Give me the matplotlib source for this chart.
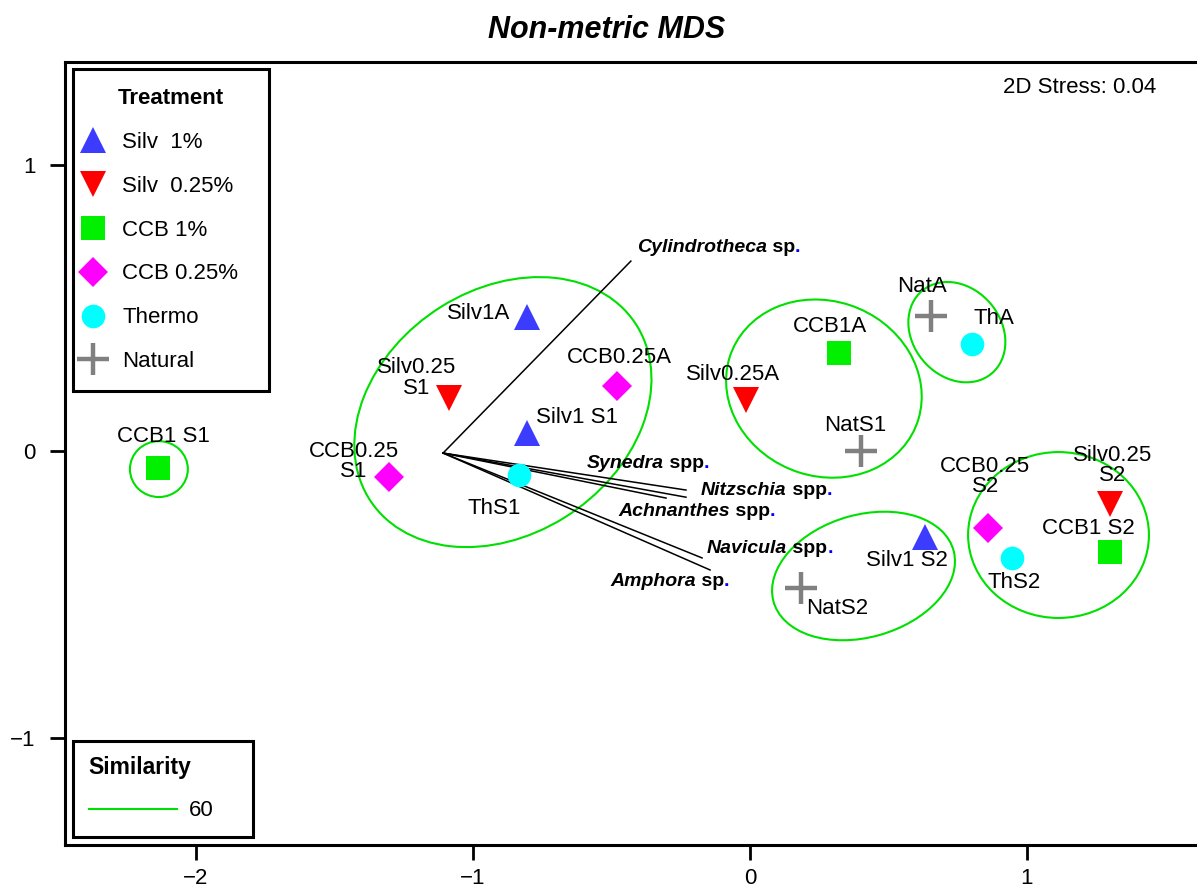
import matplotlib
matplotlib.use('Agg')
import matplotlib.pyplot as plt
from matplotlib.lines import Line2D
from matplotlib.patches import Ellipse

plt.rcParams['font.family'] = ['Liberation Sans', 'DejaVu Sans']

# --- sample ordination scores (nMDS axis 1 / axis 2) ---
sample_names = ['CCB1 S1', 'Silv1A', 'Silv0.25\nS1', 'CCB0.25\nS1', 'Silv1 S1', 'ThS1',
                'CCB0.25A', 'Silv0.25A', 'CCB1A', 'NatS1', 'NatA', 'ThA',
                'Silv1 S2', 'NatS2', 'CCB0.25\nS2', 'ThS2', 'Silv0.25\nS2', 'CCB1 S2']
sample_groups = ['CCB 1%', 'Silv  1%', 'Silv  0.25%', 'CCB 0.25%', 'Silv  1%', 'Thermo',
                 'CCB 0.25%', 'Silv  0.25%', 'CCB 1%', 'Natural', 'Natural', 'Thermo',
                 'Silv  1%', 'Natural', 'CCB 0.25%', 'Thermo', 'Silv  0.25%', 'CCB 1%']
mds_x = [-2.137, -0.805, -1.087, -1.303, -0.805, -0.834,
         -0.480, -0.014, 0.321, 0.401, 0.653, 0.801,
         0.632, 0.184, 0.859, 0.946, 1.300, 1.300]
mds_y = [-0.059, 0.468, 0.185, -0.091, 0.063, -0.084,
         0.227, 0.178, 0.342, 0.000, 0.471, 0.373,
         -0.300, -0.478, -0.269, -0.373, -0.185, -0.353]

# --- species correlation vectors ---
vector_origin = (-1.108, -0.007)
species = ['Cylindrotheca', 'Synedra', 'Nitzschia', 'Achnanthes', 'Navicula', 'Amphora']
species_suffix = ['sp', 'spp', 'spp', 'spp', 'spp', 'sp']
vector_x = [-0.430, -0.231, -0.231, -0.303, -0.173, -0.144]
vector_y = [0.663, -0.136, -0.161, -0.164, -0.373, -0.415]

# --- 60% similarity contours (centre x, centre y, width, height, angle) ---
cluster_x = [-2.134, -0.892, 0.267, 0.747, 0.410, 1.114]
cluster_y = [-0.063, 0.136, 0.218, 0.415, -0.436, -0.293]
cluster_w = [0.209, 1.14, 0.715, 0.383, 0.674, 0.653]
cluster_h = [0.195, 0.86, 0.612, 0.314, 0.428, 0.579]
cluster_angle = [0, 31, -17.5, -45, 15, 0]

stress = 0.04
similarity_level = 60

# marker style per treatment
treatments = ['Silv  1%', 'Silv  0.25%', 'CCB 1%', 'CCB 0.25%', 'Thermo', 'Natural']
styles = {
    'Silv  1%':    dict(marker='^', color='#3c3cff', markersize=19),
    'Silv  0.25%': dict(marker='v', color='#ff0000', markersize=19),
    'CCB 1%':      dict(marker='s', color='#00f000', markersize=17),
    'CCB 0.25%':   dict(marker='D', color='#ff00ff', markersize=15),
    'Thermo':      dict(marker='o', color='#00ffff', markersize=17),
    'Natural':     dict(marker='+', color='#808080', markersize=23, markeredgewidth=3.2),
}

# sample label placement: (dx, dy in points, horizontal alignment)
label_pos = {
    'CCB1 S1': (3.6, 22.3, 'center'), 'Silv1A': (-12.2, 2.2, 'right'),
    'Silv0.25\nS1': (-23, 14.4, 'center'), 'CCB0.25\nS1': (-25.2, 11.5, 'center'),
    'Silv1 S1': (6.5, 11.5, 'left'), 'ThS1': (-17.6, -23.8, 'center'),
    'CCB0.25A': (1.4, 20.2, 'center'), 'Silv0.25A': (-9.4, 18.7, 'center'),
    'CCB1A': (-6.5, 19.4, 'center'), 'NatS1': (-4, 18.7, 'center'),
    'NatA': (-6.5, 21.6, 'center'), 'ThA': (16.2, 18.7, 'center'),
    'Silv1 S2': (-13.3, -16.6, 'center'), 'NatS2': (26.3, -14.4, 'center'),
    'CCB0.25\nS2': (-1.8, 37.1, 'center'), 'ThS2': (1.4, -18, 'center'),
    'Silv0.25\nS2': (2.2, 27.7, 'center'), 'CCB1 S2': (-15.5, 17.3, 'center'),
}
species_pos = [(4.3, 10.1), (-71.3, 19.4), (10.8, 5.0), (-34.6, -9.4), (3.6, 6.5), (-72, -8.6)]

fig = plt.figure(figsize=(11.97, 8.88), dpi=100)
ax = fig.add_axes([0.0543, 0.0484, 0.9457, 0.8818])
ax.set_xlim(-2.473, 1.614)
ax.set_ylim(-1.375, 1.358)

# similarity contours
for cx, cy, w, h, a in zip(cluster_x, cluster_y, cluster_w, cluster_h, cluster_angle):
    ax.add_patch(Ellipse((cx, cy), w, h, angle=a, fill=False, edgecolor='#00e000', lw=1.5, zorder=1))

# species vectors
for i, sp in enumerate(species):
    ax.plot([vector_origin[0], vector_x[i]], [vector_origin[1], vector_y[i]],
            color='black', lw=1.1, zorder=2)
    dx, dy = species_pos[i]
    t = ax.annotate(sp, xy=(vector_x[i], vector_y[i]), xytext=(dx, dy), textcoords='offset points',
                    ha='left', va='center', fontsize=14, fontstyle='italic', fontweight='bold', zorder=5)
    s = ax.annotate(' ' + species_suffix[i], xy=(1, 0), xycoords=t, ha='left', va='bottom',
                    fontsize=14, fontweight='bold', zorder=5)
    ax.annotate('.', xy=(1, 0), xycoords=s, ha='left', va='bottom', color='blue',
                fontsize=14, fontweight='bold', zorder=5)

# samples
for name, grp, x, y in zip(sample_names, sample_groups, mds_x, mds_y):
    st = styles[grp]
    ax.plot(x, y, linestyle='none', marker=st['marker'], color=st['color'],
            markersize=st['markersize'], markeredgewidth=st.get('markeredgewidth', 0), zorder=4)
    dx, dy, ha = label_pos[name]
    ax.annotate(name, xy=(x, y), xytext=(dx, dy), textcoords='offset points',
                ha=ha, va='center', multialignment='center', linespacing=0.95,
                fontsize=16, zorder=5)

ax.text(0.9638, 0.968, '2D Stress: %.2f' % stress, transform=ax.transAxes,
        ha='right', va='center', fontsize=16)

# axes styling
for side in ['left', 'bottom', 'top']:
    ax.spines[side].set_linewidth(2.2)
ax.spines['right'].set_visible(False)
ax.set_xticks([-2, -1, 0, 1])
ax.set_yticks([-1, 0, 1])
ax.set_xticklabels(['\u22122', '\u22121', '0', '1'])
ax.set_yticklabels(['\u22121', '0', '1'])
ax.tick_params(axis='both', direction='out', length=11, width=2, labelsize=16)
ax.tick_params(axis='x', pad=5.5)
ax.tick_params(axis='y', pad=10)

# treatment legend
handles = []
for tr in treatments:
    st = styles[tr]
    handles.append(Line2D([], [], linestyle='none', marker=st['marker'], color=st['color'],
                          markersize=st['markersize'], markeredgewidth=st.get('markeredgewidth', 0)))
leg1 = ax.legend(handles, treatments, title='Treatment', loc='upper left',
                 bbox_to_anchor=(0.0071, 0.0, 0.1731, 0.991), mode='expand', borderaxespad=0,
                 fontsize=16, title_fontproperties={'weight': 'bold', 'size': 16},
                 borderpad=0.85, handlelength=0.1, handletextpad=1.26, labelspacing=1.03,
                 fancybox=False, framealpha=1, edgecolor='black')
leg1.get_frame().set_linewidth(2.2)
ax.add_artist(leg1)

# similarity legend
sim_handle = Line2D([], [], color='#00e000', lw=1.5)
leg2 = ax.legend([sim_handle], [str(similarity_level)], title='Similarity', loc='lower left',
                 bbox_to_anchor=(0.0071, 0.0102, 0.159, 0.5), mode='expand', borderaxespad=0,
                 fontsize=16, title_fontproperties={'weight': 'bold', 'size': 16.5},
                 alignment='left', borderpad=0.7, handlelength=3.96, handletextpad=0.54,
                 labelspacing=0.95, fancybox=False, framealpha=1, edgecolor='black')
leg2.get_frame().set_linewidth(2.2)

fig.text(0.507, 0.966, 'Non-metric MDS', ha='center', va='center',
         fontsize=22, fontstyle='italic', fontweight='bold')

fig.savefig('out.png', dpi=100)
